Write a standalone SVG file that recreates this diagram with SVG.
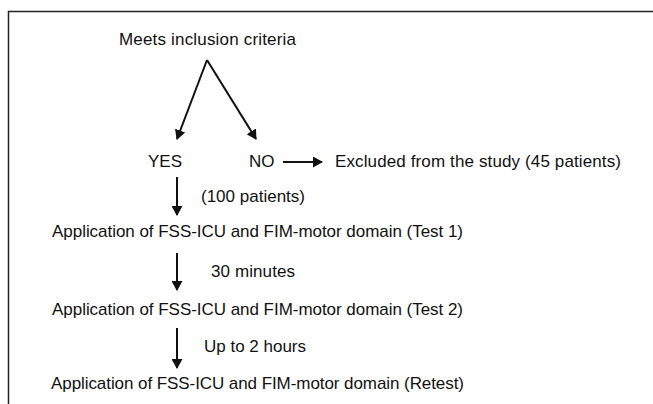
<svg xmlns="http://www.w3.org/2000/svg" width="653" height="404" viewBox="0 0 653 404">
<defs>
<marker id="ah" markerWidth="10" markerHeight="11" refX="9" refY="5.5" orient="auto" markerUnits="userSpaceOnUse">
<path d="M0,0 L10,5.5 L0,11 Z" fill="#111"/>
</marker>
<style>
text{font-family:"Liberation Sans",Arial,sans-serif;font-size:17px;fill:#111}
.c{stroke:#111;stroke-width:2;fill:none}
</style>
</defs>
<rect width="653" height="404" fill="#fff"/>
<path d="M8.5,404 V11.5 H653" fill="none" stroke="#222" stroke-width="1.5"/>
<g id="meets"><text x="119" y="45" textLength="177">Meets inclusion criteria</text></g>
<g id="yes"><text x="148" y="167">YES</text></g>
<g id="no"><text x="249" y="167">NO</text></g>
<g id="excluded"><text x="335" y="167" textLength="286">Excluded from the study (45 patients)</text></g>
<g id="test1"><text x="52" y="237" textLength="411">Application of FSS-ICU and FIM-motor domain (Test 1)</text></g>
<g id="test2"><text x="52" y="315" textLength="411">Application of FSS-ICU and FIM-motor domain (Test 2)</text></g>
<g id="retest"><text x="51" y="389" textLength="413">Application of FSS-ICU and FIM-motor domain (Retest)</text></g>
<g id="connectors">
<line class="c" x1="207" y1="60" x2="177" y2="139" marker-end="url(#ah)"/>
<line class="c" x1="207" y1="60" x2="256" y2="139" marker-end="url(#ah)"/>
<line class="c" x1="283" y1="162" x2="322" y2="162" marker-end="url(#ah)" stroke-width="1.5"/>
<line class="c" x1="177" y1="177" x2="177" y2="215" marker-end="url(#ah)"/>
<line class="c" x1="177" y1="253" x2="177" y2="290" marker-end="url(#ah)"/>
<line class="c" x1="177" y1="328" x2="177" y2="368" marker-end="url(#ah)"/>
<text x="201" y="202" textLength="104">(100 patients)</text>
<text x="211" y="277" textLength="84">30 minutes</text>
<text x="204" y="352" textLength="102">Up to 2 hours</text>
</g>
</svg>
